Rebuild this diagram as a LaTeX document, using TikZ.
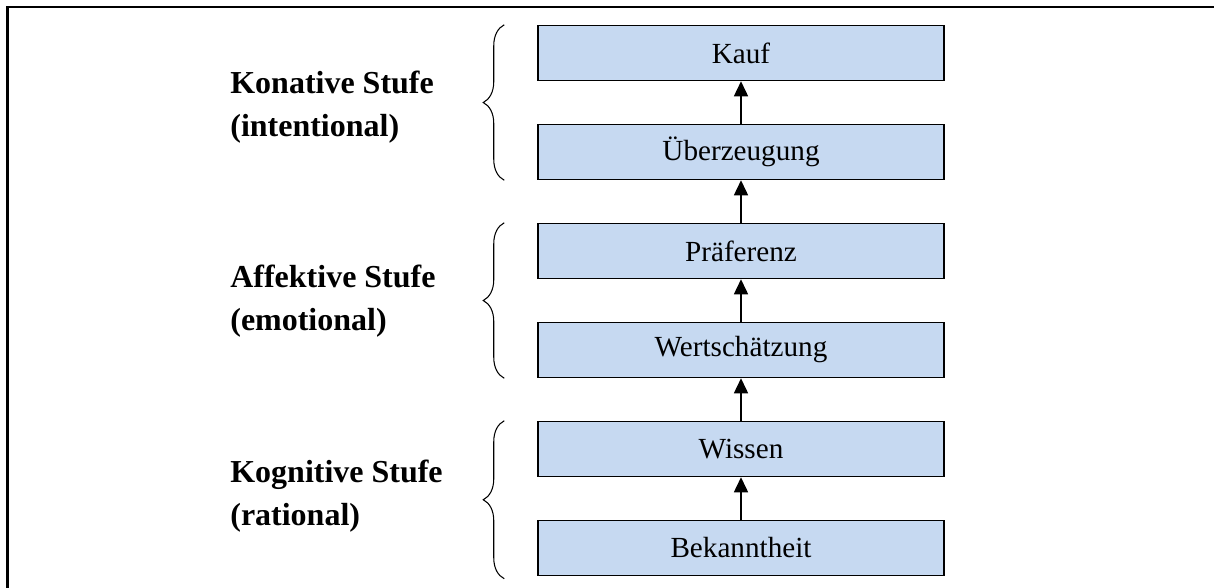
\documentclass[tikz,border=0pt]{standalone}
\usepackage{fontspec}
\setmainfont{Liberation Serif}
\usepackage{tikz}
\usetikzlibrary{positioning, arrows.meta, decorations.pathreplacing}
\definecolor{stageBlue}{HTML}{C6D9F1}
\definecolor{lineBlack}{HTML}{000000}

\begin{document}
\begin{tikzpicture}[
  stage/.style={draw=lineBlack, line width=0.85pt, fill=stageBlue, minimum width=8.12cm, minimum height=1.1cm, inner sep=0pt, font=\fontsize{16.6}{20}\selectfont},
  up/.style={draw=lineBlack, line width=0.85pt, -{Triangle[width=0.28cm, length=0.3cm]}},
  grp/.style={draw=lineBlack, line width=0.6pt, decorate, decoration={brace, amplitude=0.42cm}},
  level/.style={anchor=west, align=left, inner sep=0pt, font=\fontsize{18.2}{24.5}\selectfont\bfseries}]
  \useasboundingbox (0,0) rectangle (24.28,-11.76);
  % frame
  \draw[lineBlack, line width=0.05cm] (24.28,-0.14) -- (0.15,-0.14) -- (0.15,-11.76);
  % stages, bottom to top
  \node[stage] (bek) at (14.82,-10.96) {Bekanntheit};
  \node[stage, above=0.85cm of bek] (wis) {Wissen};
  \node[stage, above=0.85cm of wis] (wer) {Wertschätzung};
  \node[stage, above=0.85cm of wer] (pra) {Präferenz};
  \node[stage, above=0.85cm of pra] (ueb) {Überzeugung};
  \node[stage, above=0.85cm of ueb] (kauf) {Kauf};
  \draw[up] (bek) -- (wis);
  \draw[up] (wis) -- (wer);
  \draw[up] (wer) -- (pra);
  \draw[up] (pra) -- (ueb);
  \draw[up] (ueb) -- (kauf);
  % braces
  \draw[grp] ([xshift=-0.66cm, yshift=-0.05cm]bek.south west) -- ([xshift=-0.66cm]wis.north west);
  \draw[grp] ([xshift=-0.66cm]wer.south west) -- ([xshift=-0.66cm]pra.north west);
  \draw[grp] ([xshift=-0.66cm]ueb.south west) -- ([xshift=-0.66cm]kauf.north west);
  % levels
  \node[level] (kon) at (4.6,-2.15) {Konative Stufe\\(intentional)};
  \node[level] (aff) at (4.6,-6.03) {Affektive Stufe\\(emotional)};
  \node[level] (kog) at (4.6,-9.93) {Kognitive Stufe\\(rational)};
\end{tikzpicture}
\end{document}
